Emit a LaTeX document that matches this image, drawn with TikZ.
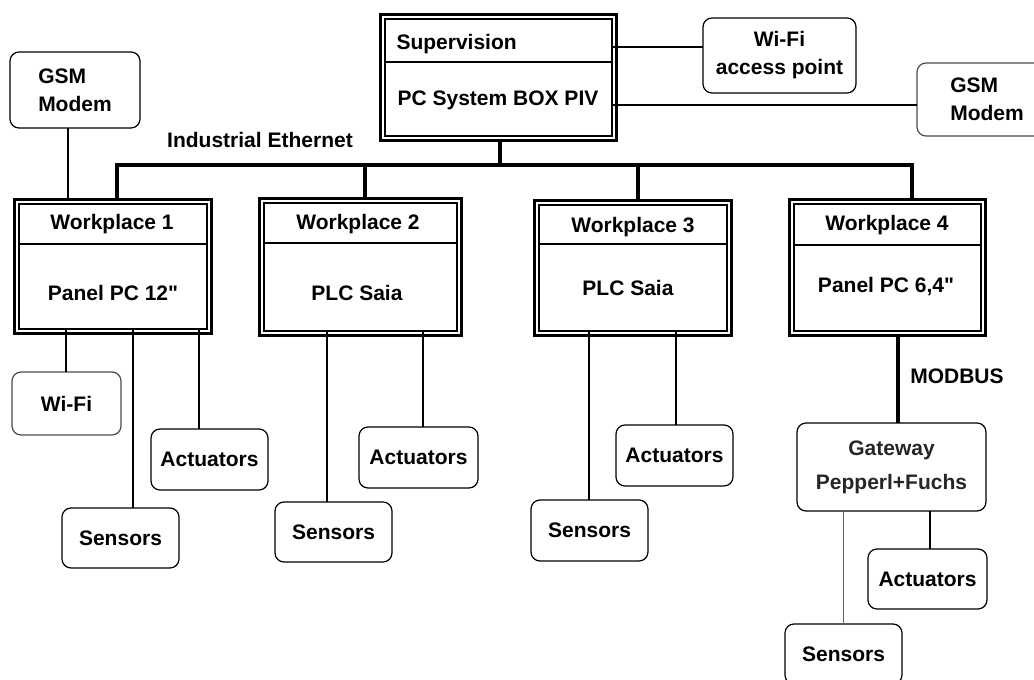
\documentclass[tikz,border=0pt]{standalone}
\usepackage{fontspec}
\setmainfont{Liberation Sans}[Ligatures=TeXOff]
\usetikzlibrary{fit}

\tikzset{
  every node/.append style={font=\fontsize{21}{28}\selectfont\bfseries},
  inbox/.style={draw, line width=1.2pt, inner sep=0pt, outer sep=0pt},
  outframe/.style={draw, line width=3pt, inner sep=4.5pt, outer sep=0pt},
  device/.style={draw, line width=1.2pt, rounded corners=9pt, align=center, inner sep=0pt, outer sep=0pt},
  bus/.style={line width=3.5pt},
  wire/.style={line width=1.2pt},
}

\begin{document}
\begin{tikzpicture}[x=1pt, y=-1pt]
    \path[use as bounding box, clip] (0,0) rectangle (1034,680);

    % supervision pc
    \node[inbox, minimum width=227pt, minimum height=117pt] (sup) at (498.5,77.5) {};
    \node[outframe, fit=(sup)] (supf) {};
    \draw[wire] (sup.west |- 0,62) -- (sup.east |- 0,62);
    \node[anchor=west] (supt) at (393,44) {Supervision};
    \node (supb) at (498,100) {PC System BOX PIV};

    % wireless and gsm at the top
    \node[device, minimum width=153pt, minimum height=75pt] (wifiap) at (779.5,55.5) {Wi-Fi\\access point};
    \node[device, minimum width=140pt, minimum height=73pt, align=left, draw=black!70] (gsm2) at (987,99.5) {GSM\\Modem};
    \draw[wire] (sup.east |- 0,47) -- (wifiap.west |- 0,47);
    \draw[wire] (sup.east |- 0,105) -- (gsm2.west |- 0,105);

    \node[device, minimum width=130pt, minimum height=76pt, align=left] (gsm1) at (75,90) {GSM\\Modem};

    % workplaces
    \node[inbox, minimum width=188pt, minimum height=125pt] (wp1) at (113,266.5) {};
    \node[outframe, fit=(wp1)] (wp1f) {};
    \draw[wire] (wp1.west |- 0,244) -- (wp1.east |- 0,244);
    \node (wp1t) at (112,224) {Workplace 1};
    \node (wp1b) at (113,293) {Panel PC 12"};

    \node[inbox, minimum width=193pt, minimum height=128pt] (wp2) at (360.5,267) {};
    \node[outframe, fit=(wp2)] (wp2f) {};
    \draw[wire] (wp2.west |- 0,243) -- (wp2.east |- 0,243);
    \node (wp2t) at (358,224) {Workplace 2};
    \node (wp2b) at (357,293) {PLC Saia};

    \node[inbox, minimum width=188pt, minimum height=126pt] (wp3) at (633,268) {};
    \node[outframe, fit=(wp3)] (wp3f) {};
    \draw[wire] (wp3.west |- 0,244) -- (wp3.east |- 0,244);
    \node (wp3t) at (633,227) {Workplace 3};
    \node (wp3b) at (628,288) {PLC Saia};

    \node[inbox, minimum width=187pt, minimum height=127pt] (wp4) at (887.5,267.5) {};
    \node[outframe, fit=(wp4)] (wp4f) {};
    \draw[wire] (wp4.west |- 0,245) -- (wp4.east |- 0,245);
    \node (wp4t) at (887,225) {Workplace 4};
    \node (wp4b) at (886,287) {Panel PC 6,4"};

    % industrial ethernet
    \coordinate (eth) at (500,165);
    \draw[bus] (supf.south -| eth) -- (eth);
    \draw[bus] (wp1f.north -| 117,0) |- (eth) -| (wp4f.north -| 912,0);
    \draw[bus] (eth -| 365,0) -- (wp2f.north -| 365,0);
    \draw[bus] (eth -| 638,0) -- (wp3f.north -| 638,0);
    \node (ethl) at (260,140) {Industrial Ethernet};
    \draw[wire] (gsm1.south -| 68,0) -- (wp1f.north -| 68,0);

    % workplace 1 devices
    \node[device, minimum width=109pt, minimum height=63pt, draw=black!70] (wifi1) at (66.5,403.5) {Wi-Fi};
    \node[device, minimum width=117pt, minimum height=60pt] (sens1) at (120.5,538) {Sensors};
    \node[device, minimum width=117pt, minimum height=61pt] (act1) at (209.5,459.5) {Actuators};
    \draw[wire] (wp1.south -| 66,0) -- (wifi1.north -| 66,0);
    \draw[wire] (wp1.south -| 133,0) -- (sens1.north -| 133,0);
    \draw[wire] (wp1.south -| 199,0) -- (act1.north -| 199,0);

    % workplace 2 devices
    \node[device, minimum width=117pt, minimum height=60pt] (sens2) at (333.5,532) {Sensors};
    \node[device, minimum width=119pt, minimum height=61pt] (act2) at (418.5,457.5) {Actuators};
    \draw[wire] (wp2.south -| 327,0) -- (sens2.north -| 327,0);
    \draw[wire] (wp2.south -| 423,0) -- (act2.north -| 423,0);

    % workplace 3 devices
    \node[device, minimum width=117pt, minimum height=61pt] (sens3) at (589.5,530.5) {Sensors};
    \node[device, minimum width=117pt, minimum height=61pt] (act3) at (674.5,455.5) {Actuators};
    \draw[wire] (wp3.south -| 589,0) -- (sens3.north -| 589,0);
    \draw[wire] (wp3.south -| 676,0) -- (act3.north -| 676,0);

    % workplace 4 over modbus
    \node[device, minimum width=189pt, minimum height=88pt, text=black!85] (gw) at (891.5,467) {Gateway\\[6pt]Pepperl+Fuchs};
    \draw[bus] (wp4f.south -| 898,0) -- (gw.north -| 898,0);
    \node (modbus) at (957,376) {MODBUS};
    \node[device, minimum width=117pt, minimum height=60pt] (sens4) at (843.5,654) {Sensors};
    \node[device, minimum width=119pt, minimum height=60pt] (act4) at (927.5,579) {Actuators};
    \draw[wire, black!60, line width=1pt] (gw.south -| 843,0) -- (sens4.north -| 843,0);
    \draw[wire] (gw.south -| 930,0) -- (act4.north -| 930,0);
\end{tikzpicture}
\end{document}
